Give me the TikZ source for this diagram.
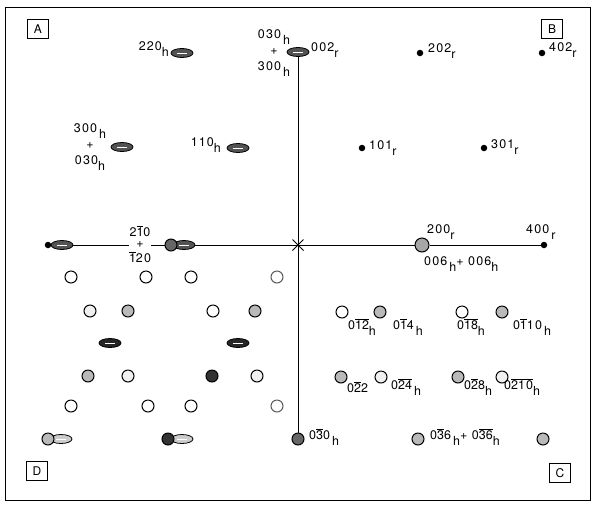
\documentclass[tikz,border=0pt]{standalone}
\usepackage{fontspec}
\setmainfont{TeX Gyre Heros}
\newfontfamily\lblfont[LetterSpace=9]{TeX Gyre Heros}
\usetikzlibrary{shapes.geometric,shapes.misc}

\newcommand{\ob}[1]{$\overline{\mbox{#1}}$}
\newcommand{\idx}[1]{\raisebox{-5.5pt}{#1}}

\begin{document}
\begin{tikzpicture}[x=1pt,y=-1pt,
    lbl/.style={font=\lblfont\fontsize{12.5}{15}\selectfont,inner sep=1pt},
    dotr/.style={circle,fill=black,inner sep=0pt,minimum size=6.5pt},
    spot/.style={circle,draw,line width=1pt,inner sep=0pt,minimum size=12pt,fill=white},
    spotlt/.style={spot,fill=gray!12},
    spotht/.style={spot,fill=gray!55},
    spotdk/.style={spot,fill=gray!80!black},
    elong/.style={ellipse,draw,line width=0.8pt,fill=gray!65!black,inner sep=0pt,
        minimum width=22pt,minimum height=9pt,
        path picture={\draw[white,line width=0.6pt]
            ([xshift=6pt]path picture bounding box.west) --
            ([xshift=-6pt]path picture bounding box.east);}},
    elonglt/.style={elong,fill=gray!40},
    corner/.style={draw,line width=1.1pt,minimum width=21pt,minimum height=19pt,
        inner sep=0pt,font=\fontsize{12}{12}\selectfont}]
    \useasboundingbox (0,0) rectangle (596,507);
    \draw[line width=0.8pt] (5,7) rectangle (590,500);

    % corner marks
    \node[corner] (cA) at (38,29) {A};
    \node[corner] (cB) at (552,29) {B};
    \node[corner] (cC) at (560,473) {C};
    \node[corner] (cD) at (37,471) {D};

    % upper half
    \node[elong] (s220) at (182,53) {};
    \node[elong] (s002) at (298,52) {};
    \node[dotr] (s202) at (420,53) {};
    \node[dotr] (s402) at (542,53) {};
    \node[elong] (s300) at (122,147) {};
    \node[elong] (s110) at (238,148) {};
    \node[dotr] (s101) at (362,148) {};
    \node[dotr] (s301) at (484,148) {};

    \node[lbl,anchor=east] (l220) at (170,49) {220\idx{h}};
    \node[lbl,align=center] (l030) at (274,53) {030\,\idx{h}\\[1pt]+\\[1pt]300\,\idx{h}};
    \node[lbl,anchor=west] (l002) at (310,50) {002\idx{r}};
    \node[lbl,anchor=west] (l202) at (427,51) {202\idx{r}};
    \node[lbl,anchor=west] (l402) at (548,50) {402\idx{r}};
    \node[lbl,align=center] (l300) at (90,147) {300\,\idx{h}\\[1pt]+\\[1pt]030\idx{h}};
    \node[lbl,anchor=east] (l110) at (222,145) {110\idx{h}};
    \node[lbl,anchor=west] (l101) at (368,148) {101\idx{r}};
    \node[lbl,anchor=west] (l301) at (490,147) {301\idx{r}};

    % horizontal axis row
    \node[elong] (sLb) at (62,245) {};
    \node[dotr] (sLa) at (48,245) {};
    \node[elong] (s21e) at (184,245) {};
    \node[spotdk] (s210) at (171,245) {};
    \node[cross out,draw,line width=1pt,minimum size=10pt,inner sep=0pt] (o) at (298,245) {};
    \node[spotht,minimum size=14pt,fill=gray!70] (s200) at (422,245) {};
    \node[dotr] (s400) at (544,245) {};

    \draw[line width=0.8pt] (sLb.east) -- (s210.west);
    \draw[line width=0.8pt] (s21e.east) -- (o.center);
    \draw[line width=0.8pt] (o.center) -- (s200.west);
    \draw[line width=0.8pt] (s200.east) -- (s400);

    \node[lbl,fill=white,minimum width=22pt] (lplus) at (140,245) {+};
    \node[lbl] (l2m10) at (140,231) {2\ob{1}0};
    \node[lbl] (lm120) at (140,257) {\ob{1}20};
    \node[lbl,anchor=west] (l200) at (426,232) {200\idx{r}};
    \node[lbl,anchor=west] (l400) at (525,232) {400\,\idx{r}};
    \node[lbl,anchor=west] (l006) at (423,264) {006\,\idx{h}+ 006\idx{h}};

    % lower left quadrant
    \node[spot] (q11) at (71,277) {};
    \node[spot] (q12) at (146,277) {};
    \node[spot] (q13) at (191,277) {};
    \node[spot,draw=gray!70!black] (q14) at (277,277) {};
    \node[spotlt] (q21) at (90,311) {};
    \node[spotht] (q22) at (128,311) {};
    \node[spot] (q23) at (213,311) {};
    \node[spotht] (q24) at (255,311) {};
    \node[elong,fill=black!85] (q31) at (110,343) {};
    \node[elong,fill=black!85] (q32) at (238,343) {};
    \node[spotht] (q41) at (88,376) {};
    \node[spotlt] (q42) at (128,376) {};
    \node[spotdk,fill=black!80] (q43) at (212,376) {};
    \node[spotlt] (q44) at (257,376) {};
    \node[spot] (q51) at (71,406) {};
    \node[spot] (q52) at (148,406) {};
    \node[spot] (q53) at (191,406) {};
    \node[spot,draw=gray!70!black] (q54) at (277,406) {};
    \node[elonglt] (q61e) at (61,439) {};
    \node[spotht] (q61) at (48,439) {};
    \node[elonglt] (q62e) at (182,439) {};
    \node[spotdk,fill=black!80] (q62) at (168,439) {};

    % lower right quadrant
    \node[spotdk] (s030) at (298,439) {};
    \draw[line width=0.8pt] (s002) -- (o.center);
    \draw[line width=0.8pt] (o.center) -- (s030);
    \node[spot] (r11) at (342,312) {};
    \node[spotht] (r12) at (380,312) {};
    \node[spot] (r13) at (462,312) {};
    \node[spotht] (r14) at (502,312) {};
    \node[spotht] (r21) at (341,377) {};
    \node[spotlt] (r22) at (381,377) {};
    \node[spotht] (r23) at (458,377) {};
    \node[spotlt] (r24) at (502,377) {};
    \node[spotht] (r31) at (418,439) {};
    \node[spotht] (r32) at (543,439) {};

    \node[lbl] (l012) at (362,327) {0\ob{1}\ob{2}\idx{h}};
    \node[lbl] (l014) at (408,327) {0\ob{1}4\,\idx{h}};
    \node[lbl] (l018) at (471,327) {0\ob{1}\ob{8}\idx{h}};
    \node[lbl] (l0110) at (532,327) {0\ob{1}10\,\idx{h}};
    \node[lbl,anchor=west] (l022) at (346,387) {0\ob{2}2};
    \node[lbl,anchor=west] (l024) at (390,387) {0\ob{2}\ob{4}\,\idx{h}};
    \node[lbl,anchor=west] (l028) at (463,387) {0\ob{2}8\idx{h}};
    \node[lbl,anchor=west] (l0210) at (503,387) {0\ob{2}\ob{10}\idx{h}};
    \node[lbl,anchor=west] (l030b) at (308,437) {0\ob{3}0\,\idx{h}};
    \node[lbl,anchor=west] (l036) at (429,437) {0\ob{3}6\,\idx{h}+ 0\ob{3}\ob{6}\idx{h}};
\end{tikzpicture}
\end{document}
